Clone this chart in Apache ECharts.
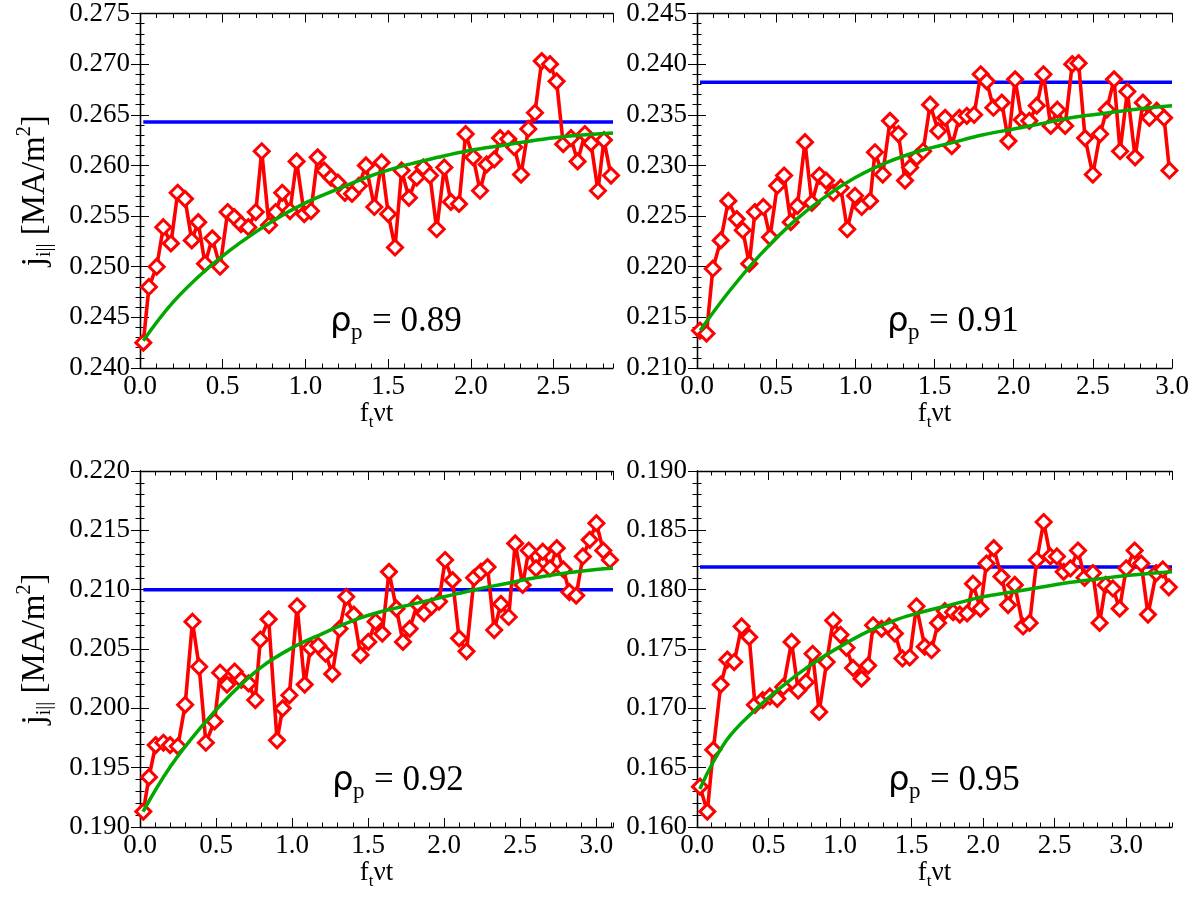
<!DOCTYPE html>
<html><head><meta charset="utf-8">
<script src="https://cdn.jsdelivr.net/npm/echarts@6/dist/echarts.min.js"></script>
<style>html,body{margin:0;padding:0;background:#fff}#c{width:1194px;height:905px}</style>
</head><body><div id="c"></div>
<script>
// ---------- data ----------
// Panel 1 (rho_p = 0.89)
const X1 = [0.020,0.054,0.101,0.141,0.187,0.228,0.272,0.313,0.352,0.393,0.437,0.484,0.530,0.570,0.611,0.655,0.700,0.736,0.780,0.820,0.860,0.907,0.947,0.993,1.034,1.074,1.114,1.155,1.197,1.239,1.282,1.324,1.366,1.417,1.461,1.501,1.542,1.582,1.626,1.673,1.713,1.753,1.794,1.840,1.880,1.929,1.969,2.015,2.056,2.096,2.142,2.177,2.227,2.263,2.304,2.348,2.388,2.429,2.479,2.519,2.559,2.606,2.646,2.690,2.727,2.769,2.805,2.848];
const Y1 = [0.2425,0.2480,0.2500,0.2539,0.2523,0.2573,0.2567,0.2526,0.2544,0.2503,0.2528,0.2500,0.2554,0.2549,0.2542,0.2539,0.2554,0.2614,0.2541,0.2554,0.2573,0.2555,0.2604,0.2552,0.2555,0.2608,0.2595,0.2588,0.2583,0.2573,0.2572,0.2580,0.2600,0.2559,0.2603,0.2552,0.2519,0.2595,0.2568,0.2588,0.2598,0.2590,0.2537,0.2598,0.2564,0.2562,0.2631,0.2608,0.2575,0.2601,0.2606,0.2627,0.2626,0.2618,0.2591,0.2636,0.2652,0.2703,0.2700,0.2683,0.2621,0.2627,0.2604,0.2631,0.2622,0.2575,0.2625,0.2590];
const G1X = [0.02,0.2,0.4,0.6,0.8,1.0,1.2,1.4,1.6,1.8,2.0,2.2,2.4,2.6,2.86];
const G1Y = [0.2427,0.2465,0.2497,0.2523,0.2545,0.2563,0.2577,0.2590,0.2600,0.2608,0.2615,0.2620,0.2625,0.2629,0.2632];
const B1 = 0.2643;
// Panel 2 (rho_p = 0.91)
const X2 = [0.019,0.060,0.100,0.150,0.198,0.251,0.289,0.330,0.366,0.419,0.461,0.507,0.550,0.592,0.634,0.682,0.725,0.773,0.815,0.861,0.908,0.949,0.998,1.040,1.093,1.124,1.173,1.219,1.272,1.314,1.346,1.388,1.428,1.472,1.524,1.567,1.609,1.657,1.704,1.750,1.792,1.830,1.872,1.925,1.967,2.009,2.051,2.099,2.146,2.188,2.234,2.276,2.325,2.370,2.410,2.451,2.500,2.546,2.588,2.634,2.672,2.718,2.767,2.816,2.857,2.904,2.950,2.984];
const Y2 = [0.2137,0.2134,0.2198,0.2226,0.2265,0.2247,0.2236,0.2203,0.2254,0.2259,0.2229,0.2280,0.2290,0.2244,0.2260,0.2323,0.2263,0.2290,0.2285,0.2273,0.2278,0.2237,0.2270,0.2259,0.2265,0.2313,0.2291,0.2344,0.2331,0.2285,0.2298,0.2308,0.2314,0.2360,0.2334,0.2347,0.2319,0.2347,0.2349,0.2350,0.2390,0.2383,0.2357,0.2362,0.2324,0.2385,0.2345,0.2344,0.2359,0.2390,0.2339,0.2355,0.2339,0.2400,0.2401,0.2327,0.2291,0.2331,0.2355,0.2385,0.2314,0.2373,0.2308,0.2362,0.2347,0.2354,0.2347,0.2295];
const G2X = [0.02,0.2,0.4,0.6,0.8,1.0,1.2,1.4,1.6,1.8,2.0,2.2,2.4,2.6,2.8,3.0];
const G2Y = [0.2137,0.2175,0.2212,0.2243,0.2268,0.2288,0.2303,0.2314,0.2322,0.2330,0.2336,0.2342,0.2348,0.2352,0.2356,0.2359];
const B2 = 0.2382;
// Panel 3 (rho_p = 0.92)
const X3 = [0.022,0.059,0.103,0.154,0.198,0.249,0.297,0.345,0.389,0.433,0.490,0.527,0.572,0.622,0.666,0.714,0.758,0.791,0.846,0.901,0.938,0.982,1.033,1.083,1.121,1.171,1.220,1.264,1.312,1.356,1.406,1.450,1.501,1.549,1.593,1.637,1.686,1.729,1.773,1.824,1.868,1.918,1.966,2.006,2.055,2.098,2.147,2.197,2.241,2.285,2.329,2.373,2.424,2.467,2.516,2.556,2.604,2.648,2.696,2.740,2.784,2.823,2.868,2.912,2.957,3.001,3.046,3.090];
const Y3 = [0.1913,0.1942,0.1969,0.1971,0.1969,0.1968,0.2003,0.2073,0.2035,0.1971,0.1989,0.2030,0.2020,0.2031,0.2024,0.2021,0.2007,0.2058,0.2075,0.1973,0.2000,0.2011,0.2086,0.2020,0.2051,0.2053,0.2046,0.2029,0.2067,0.2094,0.2079,0.2045,0.2056,0.2073,0.2063,0.2115,0.2084,0.2056,0.2067,0.2088,0.2080,0.2086,0.2090,0.2125,0.2108,0.2059,0.2048,0.2110,0.2115,0.2119,0.2066,0.2088,0.2077,0.2139,0.2104,0.2133,0.2118,0.2132,0.2118,0.2135,0.2117,0.2098,0.2095,0.2128,0.2142,0.2156,0.2133,0.2125];
const G3X = [0.02,0.2,0.4,0.6,0.8,1.0,1.2,1.4,1.6,1.8,2.0,2.2,2.4,2.6,2.8,3.0,3.11];
const G3Y = [0.1913,0.1951,0.1984,0.2012,0.2035,0.2051,0.2063,0.2074,0.2082,0.2088,0.2094,0.2100,0.2105,0.2110,0.2114,0.2117,0.2118];
const B3 = 0.2100;
// Panel 4 (rho_p = 0.95)
const X4 = [0.021,0.072,0.114,0.166,0.212,0.260,0.312,0.365,0.405,0.459,0.510,0.561,0.603,0.661,0.707,0.761,0.808,0.854,0.906,0.952,1.003,1.045,1.091,1.150,1.196,1.231,1.290,1.343,1.383,1.436,1.487,1.534,1.592,1.639,1.685,1.732,1.790,1.837,1.888,1.929,1.981,2.023,2.074,2.128,2.174,2.221,2.279,2.325,2.375,2.423,2.470,2.516,2.563,2.610,2.663,2.709,2.767,2.814,2.856,2.907,2.954,3.000,3.059,3.105,3.152,3.210,3.256,3.298];
const Y4 = [0.1634,0.1613,0.1665,0.1720,0.1741,0.1739,0.1769,0.1760,0.1703,0.1707,0.1710,0.1708,0.1718,0.1756,0.1715,0.1722,0.1746,0.1697,0.1739,0.1774,0.1762,0.1751,0.1734,0.1725,0.1736,0.1770,0.1767,0.1769,0.1763,0.1742,0.1743,0.1786,0.1752,0.1749,0.1772,0.1782,0.1781,0.1779,0.1780,0.1805,0.1784,0.1822,0.1835,0.1811,0.1787,0.1804,0.1769,0.1772,0.1825,0.1857,0.1828,0.1828,0.1815,0.1818,0.1833,0.1810,0.1814,0.1772,0.1804,0.1801,0.1784,0.1818,0.1833,0.1822,0.1779,0.1814,0.1817,0.1802];
const G4X = [0.02,0.2,0.4,0.6,0.8,1.0,1.2,1.4,1.6,1.8,2.0,2.2,2.4,2.6,2.8,3.0,3.2,3.32];
const G4Y = [0.1632,0.1672,0.1698,0.1719,0.1737,0.1752,0.1765,0.1775,0.1782,0.1788,0.1794,0.1798,0.1802,0.1806,0.1809,0.1812,0.1814,0.1815];
const B4 = 0.1819;

// axis ranges / tick labels
const XMAX = [2.86, 3.0, 3.11, 3.32];
const YMIN = [0.240, 0.210, 0.190, 0.160];
const YMAX = [0.275, 0.245, 0.220, 0.190];
const RHO_LABELS = ['0.89', '0.91', '0.92', '0.95'];

// ---------- layout ----------
const GRIDS = [
  {left: 140, top: 12, width: 473, height: 356},
  {left: 697, top: 12, width: 475, height: 356},
  {left: 140, top: 471, width: 473, height: 356},
  {left: 697, top: 471, width: 475, height: 356}
];
// left x of the annotation, vertical middle of its digits
const ANNOT = [[330, 322], [887, 322], [332, 781], [888, 781]];

const SERIF = 'Liberation Serif';
const FS = 27;
const lineCol = '#000';

const xAxes = [], yAxes = [], series = [], graphics = [];

function zip(a, b) { return a.map((v, i) => [v, b[i]]); }

const panels = [
  {x: X1, y: Y1, gx: G1X, gy: G1Y, b: B1},
  {x: X2, y: Y2, gx: G2X, gy: G2Y, b: B2},
  {x: X3, y: Y3, gx: G3X, gy: G3Y, b: B3},
  {x: X4, y: Y4, gx: G4X, gy: G4Y, b: B4}
];

panels.forEach((p, g) => {
  const xmax = XMAX[g];
  const baseX = {
    gridIndex: g, type: 'value', min: 0, max: xmax,
    splitLine: {show: false},
    axisLine: {show: true, lineStyle: {color: lineCol, width: 1.3}},
  };
  xAxes.push(Object.assign({}, baseX, {
    position: 'bottom', interval: 0.5,
    axisTick: {show: true, inside: true, length: 9, lineStyle: {color: lineCol, width: 1}},
    axisLabel: {show: true, color: '#000', fontFamily: SERIF, fontSize: FS, margin: 5,
      showMaxLabel: Math.abs(xmax / 0.5 - Math.round(xmax / 0.5)) < 1e-6,
      formatter: v => v.toFixed(1)},
    name: '{n|f}{s|t}{n|νt}', nameLocation: 'middle', nameGap: 21,
    nameTextStyle: {color: '#000', rich: {
      n: {fontFamily: SERIF, fontSize: FS, lineHeight: 34, color: '#000'},
      s: {fontFamily: SERIF, fontSize: 17, lineHeight: 17, verticalAlign: 'bottom', color: '#000'}
    }}
  }));
  xAxes.push(Object.assign({}, baseX, {
    position: 'bottom', interval: 0.1,
    axisLine: {show: false},
    axisTick: {show: true, inside: true, length: 4.5, lineStyle: {color: lineCol, width: 1}},
    axisLabel: {show: false}
  }));
  xAxes.push(Object.assign({}, baseX, {
    position: 'top', interval: 0.5,
    axisTick: {show: true, inside: true, length: 9, lineStyle: {color: lineCol, width: 1}},
    axisLabel: {show: false}
  }));
  xAxes.push(Object.assign({}, baseX, {
    position: 'top', interval: 0.1,
    axisLine: {show: false},
    axisTick: {show: true, inside: true, length: 4.5, lineStyle: {color: lineCol, width: 1}},
    axisLabel: {show: false}
  }));

  const baseY = {
    gridIndex: g, type: 'value', min: YMIN[g], max: YMAX[g], interval: 0.005,
    splitLine: {show: false},
    axisLine: {show: true, lineStyle: {color: lineCol, width: 1.3}},
    axisTick: {show: true, inside: true, length: 9, lineStyle: {color: lineCol, width: 1}},
    minorTick: {show: true, splitNumber: 5, length: 4.5, lineStyle: {color: lineCol, width: 1}}
  };
  const leftY = Object.assign({}, baseY, {
    position: 'left',
    axisLabel: {show: true, color: '#000', fontFamily: SERIF, fontSize: FS, margin: 10,
      formatter: v => v.toFixed(3)}
  });
  if (g === 0 || g === 2) {
    Object.assign(leftY, {
      name: '{n|j}{s|i||}{n| [MA/m}{u|2}{n|]}',
      nameLocation: 'middle', nameGap: 85, nameRotate: 90,
      nameTextStyle: {color: '#000', rich: {
        n: {fontFamily: SERIF, fontSize: 33, lineHeight: 40, color: '#000'},
        s: {fontFamily: SERIF, fontSize: 20, lineHeight: 20, verticalAlign: 'bottom', color: '#000'},
        u: {fontFamily: SERIF, fontSize: 20, lineHeight: 20, verticalAlign: 'top', color: '#000'}
      }}
    });
  }
  yAxes.push(leftY);
  yAxes.push(Object.assign({}, baseY, {position: 'right', axisLabel: {show: false}}));

  const xi = 4 * g, yi = 2 * g;
  series.push({
    type: 'line', xAxisIndex: xi, yAxisIndex: yi, z: 2,
    data: [[p.x[0], p.b], [xmax, p.b]],
    symbol: 'none', lineStyle: {color: '#0000ff', width: 3.5}, silent: true
  });
  series.push({
    type: 'line', xAxisIndex: xi, yAxisIndex: yi, z: 3,
    data: zip(p.x, p.y),
    symbol: 'diamond', symbolSize: 15, showSymbol: true,
    itemStyle: {color: '#ffffff', borderColor: '#ff0000', borderWidth: 3},
    lineStyle: {color: '#ff0000', width: 3.6}
  });
  series.push({
    type: 'line', xAxisIndex: xi, yAxisIndex: yi, z: 4,
    data: zip(p.gx, p.gy), smooth: 0.4,
    symbol: 'none', lineStyle: {color: '#00a800', width: 3.5}, silent: true
  });

  // annotation "ρ_p = value" as three plain text pieces
  const ax = ANNOT[g][0], ay = ANNOT[g][1];
  graphics.push({
    type: 'text', x: ax, y: ay, z: 10, silent: true,
    style: {text: 'ρ', font: '34px "DejaVu Sans"', fill: '#000', align: 'left', verticalAlign: 'middle'}
  });
  graphics.push({
    type: 'text', x: ax + 21, y: ay + 11, z: 10, silent: true,
    style: {text: 'p', font: '23px "Liberation Serif"', fill: '#000', align: 'left', verticalAlign: 'middle'}
  });
  graphics.push({
    type: 'text', x: ax + 42, y: ay, z: 10, silent: true,
    style: {text: '= ' + RHO_LABELS[g], font: '35px "Liberation Serif"', fill: '#000', align: 'left', verticalAlign: 'middle'}
  });
});

const chart = echarts.init(document.getElementById('c'), null, {renderer: 'canvas'});
chart.setOption({
  animation: false,
  backgroundColor: '#ffffff',
  grid: GRIDS,
  xAxis: xAxes,
  yAxis: yAxes,
  series: series,
  graphic: graphics
});
</script>
</body></html>
